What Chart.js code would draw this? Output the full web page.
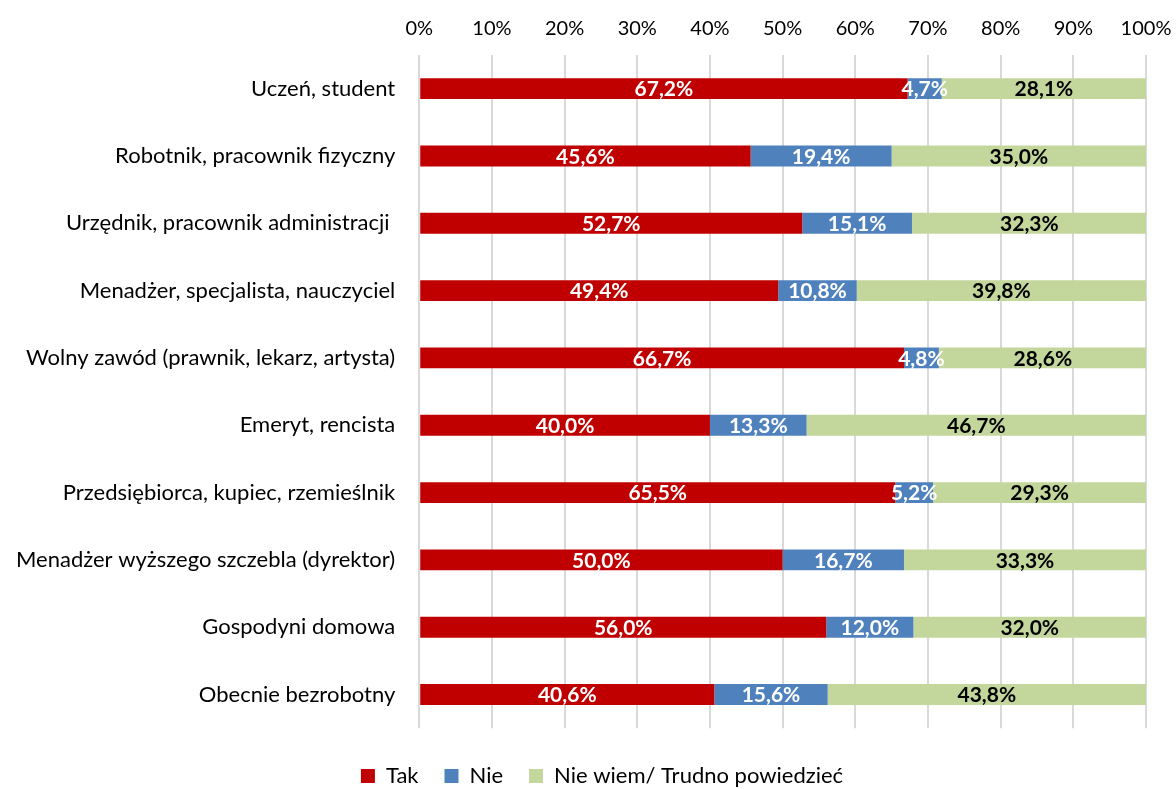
<!DOCTYPE html>
<html lang="pl">
<head>
    <meta charset="UTF-8">
    <title>Tak / Nie / Nie wiem</title>
    <script src="https://cdn.jsdelivr.net/npm/chart.js"></script>
    <style>
        html, body { margin: 0; padding: 0; background: #fff; }
        .chart-container { position: relative; width: 1176px; height: 789px; }
    </style>
</head>
<body>
    <div class="chart-container">
        <canvas id="chart"></canvas>
    </div>
    <script>
        const categories = [
            'Uczeń, student',
            'Robotnik, pracownik fizyczny',
            'Urzędnik, pracownik administracji ',
            'Menadżer, specjalista, nauczyciel',
            'Wolny zawód (prawnik, lekarz, artysta)',
            'Emeryt, rencista',
            'Przedsiębiorca, kupiec, rzemieślnik',
            'Menadżer wyższego szczebla (dyrektor)',
            'Gospodyni domowa',
            'Obecnie bezrobotny'
        ];
        const tak = [67.2, 45.6, 52.7, 49.4, 66.7, 40.0, 65.5, 50.0, 56.0, 40.6];
        const nie = [4.7, 19.4, 15.1, 10.8, 4.8, 13.3, 5.2, 16.7, 12.0, 15.6];
        const nieWiem = [28.1, 35.0, 32.3, 39.8, 28.6, 46.7, 29.3, 33.3, 32.0, 43.8];

        const seriesNames = ['Tak', 'Nie', 'Nie wiem/ Trudno powiedzieć'];
        const colors = ['#C00000', '#4F81BD', '#C3D69B'];
        const labelColors = ['#ffffff', '#ffffff', '#000000'];

        const FONT = 'Lato, "Open Sans", sans-serif';

        // draws the value in the middle of each segment
        const valueLabels = {
            id: 'valueLabels',
            afterDatasetsDraw(chart) {
                const ctx = chart.ctx;
                ctx.save();
                ctx.font = 'bold 21px ' + FONT;
                ctx.textAlign = 'center';
                ctx.textBaseline = 'middle';
                chart.data.datasets.forEach((ds, i) => {
                    const meta = chart.getDatasetMeta(i);
                    meta.data.forEach((bar, j) => {
                        const x = (bar.x + bar.base) / 2;
                        ctx.fillStyle = labelColors[i];
                        ctx.fillText(ds.data[j].toFixed(1).replace('.', ',') + '%', x, bar.y + 1);
                    });
                });
                ctx.restore();
            }
        };

        // legend in the original sits a little right of the canvas centre
        const legendShift = {
            id: 'legendShift',
            afterLayout(chart) {
                chart.legend.left += 14;
                chart.legend.right += 14;
            }
        };

        const datasets = [tak, nie, nieWiem].map((values, i) => ({
            label: seriesNames[i],
            data: values,
            backgroundColor: colors[i],
            borderWidth: 0,
            categoryPercentage: 1,
            barPercentage: 0.31
        }));

        new Chart(document.getElementById('chart'), {
            type: 'bar',
            data: { labels: categories, datasets: datasets },
            plugins: [valueLabels, legendShift],
            options: {
                indexAxis: 'y',
                responsive: true,
                maintainAspectRatio: false,
                animation: false,
                layout: { padding: { left: -8, right: -8, top: 3, bottom: -8 } },
                scales: {
                    x: {
                        position: 'top',
                        stacked: true,
                        min: 0,
                        max: 100,
                        afterFit: s => { s.paddingRight = 30; },
                        ticks: {
                            stepSize: 10,
                            padding: 14,
                            color: '#000',
                            font: { family: FONT, size: 20 },
                            callback: v => v + '%'
                        },
                        grid: { color: '#D9D9D9', lineWidth: 2, drawTicks: false },
                        border: { display: false }
                    },
                    y: {
                        stacked: true,
                        ticks: {
                            padding: 24,
                            color: '#000',
                            font: { family: FONT, size: 22 }
                        },
                        grid: { display: false, drawTicks: false },
                        border: { display: false }
                    }
                },
                plugins: {
                    legend: {
                        position: 'bottom',
                        title: { display: true, text: '', padding: 0, font: { size: 9 } },
                        labels: {
                            boxWidth: 14,
                            boxHeight: 14,
                            padding: 26,
                            color: '#000',
                            font: { family: FONT, size: 22 }
                        }
                    },
                    tooltip: { enabled: false }
                }
            }
        });
    </script>
</body>
</html>
